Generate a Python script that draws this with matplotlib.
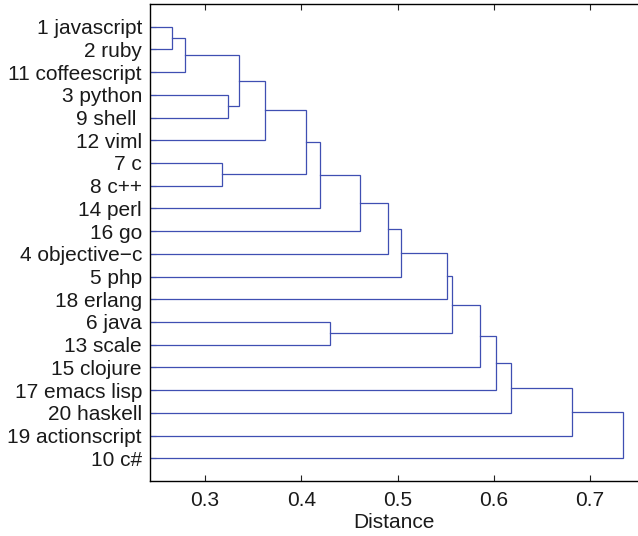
import numpy as np
import matplotlib
matplotlib.use("Agg")
import matplotlib.pyplot as plt

# leaf labels, top to bottom, as shown in the dendrogram
leaf_labels = ['1 javascript', '2 ruby', '11 coffeescript', '3 python', '9 shell ',
               '12 viml', '7 c', '8 c++', '14 perl', '16 go', '4 objective\u2212c',
               '5 php', '18 erlang', '6 java', '13 scale', '15 clojure',
               '17 emacs lisp', '20 haskell', '19 actionscript', '10 c#']

# merges: (left node, right node, distance); nodes 0..19 are leaves,
# node 20+k is the cluster built by merge k
merge_left = [0, 20, 3, 21, 23, 6, 24, 26, 27, 28, 29, 30, 13, 31, 33, 34, 35, 36, 37]
merge_right = [1, 2, 4, 22, 5, 7, 25, 8, 9, 10, 11, 12, 14, 32, 15, 16, 17, 18, 19]
merge_dist = [0.266, 0.279, 0.324, 0.335, 0.362, 0.318, 0.405, 0.419, 0.461, 0.490,
              0.503, 0.551, 0.430, 0.557, 0.586, 0.602, 0.618, 0.681, 0.734]

plt.rcParams['font.family'] = ['Liberation Sans', 'DejaVu Sans']

fig = plt.figure(figsize=(6.38, 5.36), dpi=100)
ax = fig.add_axes([150.3 / 638, 1 - 481 / 536, 1 - 150.3 / 638, (481 - 4) / 536])

line_col = '#3f4fb2'
n = len(leaf_labels)
ypos = list(range(1, n + 1))
xpos = [0.0] * n
for a, b, d in zip(merge_left, merge_right, merge_dist):
    ax.plot([xpos[a], d, d, xpos[b]], [ypos[a], ypos[a], ypos[b], ypos[b]],
            color=line_col, lw=0.9, solid_joinstyle='miter')
    ypos.append((ypos[a] + ypos[b]) / 2)
    xpos.append(d)

ax.set_xlim(0.243, 0.7498)
ax.set_ylim(21, 0)
ax.set_xticks([0.3, 0.4, 0.5, 0.6, 0.7])
ax.set_xticklabels(['0.3', '0.4', '0.5', '0.6', '0.7'])
ax.set_yticks(range(1, n + 1))
ax.set_yticklabels(leaf_labels)
ax.tick_params(axis='both', direction='in', labelsize=15, length=4, width=0.8,
               colors='#222222', labelcolor='#1a1a1a')
ax.tick_params(axis='x', top=True, pad=7)
ax.tick_params(axis='y', pad=6)
ax.spines['right'].set_visible(False)
for s in ['left', 'top', 'bottom']:
    ax.spines[s].set_linewidth(1.0)
ax.set_xlabel('Distance', fontsize=15, color='#1a1a1a', labelpad=2)

fig.savefig('out.png', dpi=100)
